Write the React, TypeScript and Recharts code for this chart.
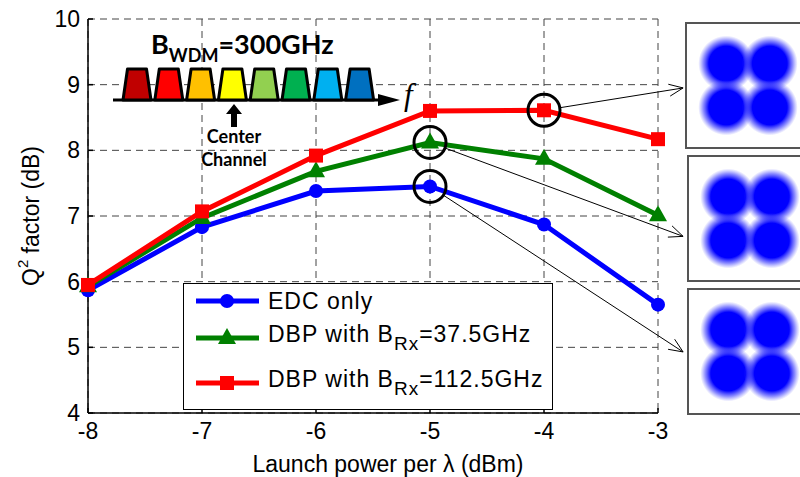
import React from 'react';
import {
  LineChart,
  Line,
  XAxis,
  YAxis,
  CartesianGrid,
  ReferenceDot,
  ReferenceLine,
  Legend,
  ScatterChart,
  Scatter
} from 'recharts';

// launch power per channel (dBm)
const powers = [-8, -7, -6, -5, -4, -3];
// Q^2 factor (dB)
const edcOnly = [5.87, 6.83, 7.38, 7.45, 6.87, 5.65];
const dbp375 = [5.93, 6.97, 7.68, 8.12, 7.87, 7.01];
const dbp1125 = [5.95, 7.07, 7.92, 8.6, 8.61, 8.17];

const xTicks = [-8, -7, -6, -5, -4, -3];
const yTicks = [4, 5, 6, 7, 8, 9, 10];

// circled points that point to the constellations: [x, y, inset y]
const circled = [
  { x: -4, y: 8.61, toY: 8.95 },
  { x: -5, y: 8.12, toY: 6.69 },
  { x: -5, y: 7.45, toY: 4.93 }
];
const insetX = -2.78;

// QPSK cluster centres for the insets
const clusterI = [-1, 1, -1, 1];
const clusterQ = [1, 1, -1, -1];

const wdmColors = ['#c00000', '#ff0000', '#ffc000', '#ffff00', '#92d050', '#00b050', '#00b0f0', '#0070c0'];

const FONT = '"Liberation Sans", Arial, sans-serif';

const data = powers.map((p, i) => ({
  p,
  edc: edcOnly[i],
  dbp1: dbp375[i],
  dbp2: dbp1125[i]
}));

const constellation = clusterI.map((v, i) => ({ i: v, q: clusterQ[i] }));

const BLUE = '#0000ff';
const GREEN = '#008000';
const RED = '#ff0000';

const circleDot = (props: any) => (
  <circle key={`c-${props.index}`} cx={props.cx} cy={props.cy} r={7} fill={BLUE} />
);
const triangleDot = (props: any) => {
  const { cx, cy } = props;
  return (
    <polygon
      key={`t-${props.index}`}
      points={`${cx},${cy - 10} ${cx - 9},${cy + 6} ${cx + 9},${cy + 6}`}
      fill={GREEN}
    />
  );
};
const squareDot = (props: any) => (
  <rect key={`s-${props.index}`} x={props.cx - 7} y={props.cy - 7} width={14} height={14} fill={RED} />
);

const arrowShape = (props: any) => {
  const { x1, y1, x2, y2 } = props;
  const dx = x2 - x1;
  const dy = y2 - y1;
  const len = Math.hypot(dx, dy);
  const ux = dx / len;
  const uy = dy / len;
  const sx = x1 + ux * 16;
  const sy = y1 + uy * 16;
  const bx = x2 - ux * 14;
  const by = y2 - uy * 14;
  return (
    <g>
      <line x1={sx} y1={sy} x2={x2} y2={y2} stroke="#000" strokeWidth={1} />
      <polyline
        points={`${bx - uy * 6},${by + ux * 6} ${x2},${y2} ${bx + uy * 6},${by - ux * 6}`}
        fill="none"
        stroke="#000"
        strokeWidth={1}
      />
    </g>
  );
};

const yLabel = () => (
  <text
    x={31}
    y={216}
    transform="rotate(-90, 31, 216)"
    textAnchor="middle"
    dominantBaseline="central"
    fontSize={23}
    fontFamily={FONT}
    fill="#000"
  >
    Q<tspan dy={-9} fontSize={15}>2</tspan>
    <tspan dy={9}> factor (dB)</tspan>
  </text>
);

const xLabel = () => (
  <text x={388} y={472} textAnchor="middle" fontSize={23} fontFamily={FONT} fill="#000">
    Launch power per λ (dBm)
  </text>
);

const legendRows = [
  { name: 'EDC only', sub: '', rest: '', color: BLUE, marker: 'circle', h: 32 },
  { name: 'DBP with B', sub: 'Rx', rest: '=37.5GHz', color: GREEN, marker: 'triangle', h: 42 },
  { name: 'DBP with B', sub: 'Rx', rest: '=112.5GHz', color: RED, marker: 'square', h: 47 }
];

const legendContent = () => (
  <div
    style={{
      width: 370,
      height: 127,
      border: '1.5px solid #000',
      background: '#fff',
      fontFamily: FONT,
      fontSize: 23,
      boxSizing: 'border-box',
      paddingTop: 1
    }}
  >
    {legendRows.map((r) => (
      <div key={r.color} style={{ display: 'flex', alignItems: 'center', height: r.h }}>
        <svg width={84} height={24} style={{ flex: 'none' }}>
          <line x1={12} y1={12} x2={75} y2={12} stroke={r.color} strokeWidth={5} />
          {r.marker === 'circle' && <circle cx={43} cy={12} r={7} fill={r.color} />}
          {r.marker === 'triangle' && <polygon points="43,2 34,18 52,18" fill={r.color} />}
          {r.marker === 'square' && <rect x={36} y={5} width={14} height={14} fill={r.color} />}
        </svg>
        <span style={{ whiteSpace: 'nowrap', letterSpacing: 1 }}>
          {r.name}
          {r.sub && <sub style={{ fontSize: 19, verticalAlign: -8 }}>{r.sub}</sub>}
          {r.rest}
        </span>
      </div>
    ))}
  </div>
);

const blob = (props: any) => (
  <circle key={`b-${props.index}`} cx={props.cx} cy={props.cy} r={28} fill="url(#qpskCloud)" />
);

function Inset({ left, top }: { left: number; top: number }) {
  return (
    <div style={{ position: 'absolute', left, top, width: 126, height: 127, border: '2px solid #555', boxSizing: 'border-box', background: '#fff' }}>
      <ScatterChart width={122} height={123} margin={{ top: 0, right: 0, bottom: 0, left: 0 }}>
        <XAxis type="number" dataKey="i" domain={[-2.8, 2.8]} hide />
        <YAxis type="number" dataKey="q" domain={[-2.8, 2.8]} hide />
        <Scatter data={constellation} shape={blob} isAnimationActive={false} />
      </ScatterChart>
    </div>
  );
}

function WdmSketch() {
  return (
    <svg width={800} height={477} style={{ position: 'absolute', left: 0, top: 0, pointerEvents: 'none' }}>
      <defs>
        <radialGradient id="qpskCloud">
          <stop offset="0%" stopColor="#0000ff" stopOpacity={1} />
          <stop offset="62%" stopColor="#0000ff" stopOpacity={1} />
          <stop offset="82%" stopColor="#1a1aff" stopOpacity={0.5} />
          <stop offset="100%" stopColor="#4040ff" stopOpacity={0} />
        </radialGradient>
      </defs>
      <text x={151} y={54} fontFamily="Lato, sans-serif" fontWeight={700} fontSize={27} fill="#000">
        B<tspan dy={8} fontSize={18}>WDM</tspan>
        <tspan dy={-8}>=300GHz</tspan>
      </text>
      {/* spectrum axis */}
      <line x1={113} y1={100} x2={382} y2={100} stroke="#000" strokeWidth={3} />
      <polygon points="378,94 400,100 378,106" fill="#000" />
      {wdmColors.map((c, i) => {
        const x0 = 123 + i * 31.8;
        return (
          <polygon
            key={c}
            points={`${x0},100 ${x0 + 4.5},69 ${x0 + 23.5},69 ${x0 + 28},100`}
            fill={c}
            stroke="#000"
            strokeWidth={3}
            strokeLinejoin="round"
          />
        );
      })}
      <text x={404} y={105} fontFamily='"Liberation Serif", serif' fontStyle="italic" fontSize={31} fill="#000">
        f
      </text>
      {/* centre channel marker */}
      <polygon points="234,104 226,114 231,114 231,127 237,127 237,114 242,114" fill="#000" />
      <text x={234} y={143} textAnchor="middle" fontFamily="Lato, sans-serif" fontWeight={700} fontSize={18} fill="#000">
        Center
      </text>
      <text x={234} y={166} textAnchor="middle" fontFamily="Lato, sans-serif" fontWeight={700} fontSize={18} fill="#000">
        Channel
      </text>
    </svg>
  );
}

export default function App() {
  return (
    <div style={{ position: 'fixed', left: 0, top: 0, width: 800, height: 477, background: '#fff', overflow: 'hidden' }}>
      <LineChart
        width={800}
        height={477}
        data={data}
        margin={{ top: 19, right: 142, bottom: 0, left: 0 }}
        style={{ fontFamily: FONT }}
      >
        <CartesianGrid stroke="#444" strokeDasharray="7 5" strokeWidth={1} />
        <XAxis
          dataKey="p"
          type="number"
          domain={[-8, -3]}
          ticks={xTicks}
          height={64}
          stroke="#000"
          strokeWidth={1.5}
          tickSize={-5}
          tickMargin={15}
          tick={{ fill: '#000', fontSize: 23 }}
          label={{ content: xLabel }}
        />
        <XAxis
          xAxisId="top"
          orientation="top"
          dataKey="p"
          type="number"
          domain={[-8, -3]}
          ticks={xTicks}
          height={0}
          stroke="#000"
          strokeWidth={1.5}
          tickSize={-5}
          tickFormatter={() => ''}
        />
        <YAxis
          type="number"
          domain={[4, 10]}
          ticks={yTicks}
          width={88}
          stroke="#000"
          strokeWidth={1.5}
          tickSize={-5}
          tickMargin={13}
          tick={{ fill: '#000', fontSize: 23 }}
          label={{ content: yLabel }}
        />
        <YAxis
          yAxisId="right"
          orientation="right"
          type="number"
          domain={[4, 10]}
          ticks={yTicks}
          width={0}
          stroke="#000"
          strokeWidth={1.5}
          tickSize={-5}
          tickFormatter={() => ''}
        />
        <Line dataKey="edc" stroke={BLUE} strokeWidth={5} dot={circleDot} isAnimationActive={false} />
        <Line dataKey="dbp1" stroke={GREEN} strokeWidth={5} dot={triangleDot} isAnimationActive={false} />
        <Line dataKey="dbp2" stroke={RED} strokeWidth={5} dot={squareDot} isAnimationActive={false} />
        {circled.map((c, i) => (
          <ReferenceDot key={`rd-${i}`} x={c.x} y={c.y} r={16} fill="none" stroke="#000" strokeWidth={3} />
        ))}
        {circled.map((c, i) => (
          <ReferenceLine
            key={`rl-${i}`}
            segment={[{ x: c.x, y: c.y }, { x: insetX, y: c.toY }]}
            ifOverflow="visible"
            shape={arrowShape}
          />
        ))}
        <Legend
          layout="horizontal"
          verticalAlign="middle"
          content={legendContent}
          wrapperStyle={{ left: 183, top: 283, width: 370, height: 127 }}
        />
      </LineChart>
      <WdmSketch />
      <Inset left={685} top={22} />
      <Inset left={687} top={155} />
      <Inset left={687} top={288} />
    </div>
  );
}
